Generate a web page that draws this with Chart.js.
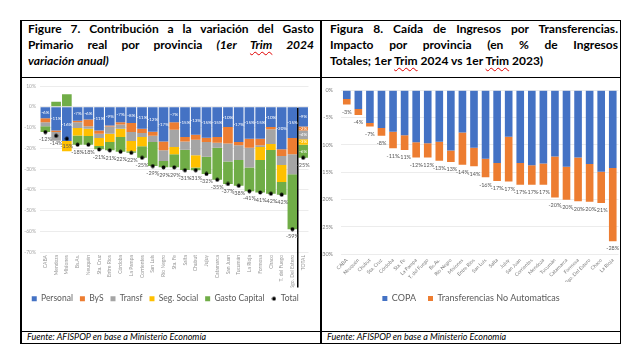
<!DOCTYPE html>
<html lang="es">
<head>
<meta charset="utf-8">
<script src="https://cdn.jsdelivr.net/npm/chart.js@4.4.1/dist/chart.umd.min.js"></script>
<title>Figuras 7 y 8</title>
<style>
  html, body { margin: 0; padding: 0; background: #fff; }
  body { width: 640px; height: 362px; position: relative; overflow: hidden; font-family: Lato, "Open Sans", sans-serif; color: #000; }
  .ln { position: absolute; background: #000; }
  .titulo { position: absolute; top: 21px; font-weight: bold; font-size: 12px; line-height: 16px; }
  .titulo div { text-align: justify; text-align-last: justify; }
  .titulo div.ult { text-align-last: left; }
  .sq { text-decoration: underline wavy #e00000; text-decoration-thickness: 1px; text-underline-offset: 2px; }
  .fuente { position: absolute; top: 331px; font-style: italic; font-size: 9px; line-height: 12px; }
  canvas { position: absolute; }
</style>
</head>
<body>
  <!-- titulos -->
  <div class="titulo" style="left:28px; width:286px;">
    <div>Figure 7. Contribución a la variación del Gasto</div>
    <div>Primario real por provincia <i>(1er <span class="sq">Trim</span> 2024</i></div>
    <div class="ult"><i>variación anual)</i></div>
  </div>
  <div class="titulo" style="left:330px; width:288px;">
    <div>Figura 8. Caída de Ingresos por Transferencias.</div>
    <div>Impacto por provincia (en % de Ingresos</div>
    <div class="ult">Totales; 1er <span class="sq">Trim</span> 2024 vs 1er <span class="sq">Trim</span> 2023)</div>
  </div>

  <!-- graficos -->
  <canvas id="fig7" width="296" height="234" style="left:22px; top:79px;"></canvas>
  <canvas id="fig8" width="298" height="234" style="left:322px; top:79px;"></canvas>

  <div class="fuente" style="left:27px;">Fuente: AFISPOP en base a Ministerio Economía</div>
  <div class="fuente" style="left:327px;">Fuente: AFISPOP en base a Ministerio Economía</div>

  <!-- bordes de la tabla -->
  <div class="ln" style="left:20px; top:20px; width:601px; height:1px;"></div>
  <div class="ln" style="left:20px; top:77px; width:601px; height:1px;"></div>
  <div class="ln" style="left:20px; top:331px; width:601px; height:1px;"></div>
  <div class="ln" style="left:20px; top:343px; width:601px; height:1px;"></div>
  <div class="ln" style="left:20px; top:20px; width:2px; height:324px;"></div>
  <div class="ln" style="left:320px; top:20px; width:2px; height:324px;"></div>
  <div class="ln" style="left:620px; top:20px; width:1px; height:324px;"></div>

<script>
// Figura 7: contribucion a la variacion del gasto primario (puntos porcentuales)
const provincias = ['CABA', 'Mendoza', 'Misiones', 'Bs.As.', 'Neuquén', 'Sta. Cruz', 'Entre Ríos', 'Córdoba',
  'La Pampa', 'Corrientes', 'San Luis', 'Río Negro', 'Sta. Fe', 'Salta', 'Chubut', 'Jujuy', 'Catamarca',
  'San Juan', 'Tucumán', 'La Rioja', 'Formosa', 'Chaco', 'T. del Fuego', 'Sgo. Del Estero', 'TOTAL'];
const personal = [-5.6, -11.4, -16.5, -6.7, -6.2, -11.4, -9.0, -7.5, -7.8, -10.6, -12.0, -16.7, -7.5,
  -14.6, -13.5, -14.9, -14.6, -9.8, -17.0, -15.4, -15.4, -9.8, -20.5, -15.1, -9.5];
const bys = [-1.9, -0.8, 0, -0.8, -3.2, -1.6, -0.5, -1.1, -4.4, -2.1, -2.0, -4.3, -3.6,
  -2.1, -2.4, -2.1, -2.7, -7.9, -1.6, -4.4, -3.2, -1.1, -3.2, -7.8, -1.9];
const transf = [-1.9, -4.2, 0, -2.7, -1.2, -2.1, -3.5, -2.0, -4.3, -1.9, -3.0, -5.2, -8.3,
  -4.0, -7.5, -7.1, -2.5, -8.7, -7.1, -9.5, -0.8, -7.1, -4.4, -9.6, -4.3];
const segSocial = [0, 0, -4.9, -3.6, -3.5, -3.8, -4.0, -4.0, -4.9, -4.4, 0, 0, -3.5,
  0, -5.9, 0, 0, 0, 0, 0, -6.3, -2.9, -8.2, 0, -2.6];
const gastoCapital = [-2.8, 2.4, 6.0, -4.5, -4.2, -1.6, -4.0, -7.1, -0.8, -5.6, -11.6, -3.0, -6.3,
  -9.8, -1.3, -8.3, -15.4, -10.8, -12.4, -11.4, -15.6, -21.0, -6.1, -26.5, -6.3];
const total = [-12.2, -14.0, -15.4, -18.3, -18.3, -20.6, -21.0, -21.7, -22.2, -24.6, -28.6, -29.2, -29.2,
  -30.6, -30.6, -32.4, -35.2, -37.2, -38.1, -40.7, -41.3, -41.9, -42.4, -59.0, -24.6];
const ticksFig7 = [10, 0, -10, -20, -30, -40, -50, -60, -70];

// Figura 8: caida de ingresos por transferencias (% de ingresos totales)
const provinciasTransf = ['CABA', 'Neuquén', 'Chubut', 'Sta. Cruz', 'Córdoba', 'Sta. Fe', 'La Pampa',
  'T. del Fuego', 'Bs.As.', 'Río Negro', 'Misiones', 'Entre Ríos', 'San Luis', 'Salta', 'Jujuy',
  'San Juan', 'Corrientes', 'Mendoza', 'Tucumán', 'Catamarca', 'Formosa', 'Sgo. Del Estero', 'Chaco', 'La Rioja'];
const copa = [-1.6, -3.4, -6.0, -6.9, -7.6, -8.2, -9.5, -9.7, -9.4, -11.0, -7.7, -10.5,
  -12.5, -13.3, -8.5, -13.3, -13.7, -13.4, -12.1, -14.0, -12.3, -13.5, -14.9, -14.2];
const noAutomaticas = [-1.0, -1.1, -0.6, -1.4, -3.0, -2.7, -2.8, -2.6, -3.5, -2.1, -5.9, -3.4,
  -3.4, -3.3, -8.2, -4.0, -3.6, -3.9, -7.5, -6.0, -8.0, -6.9, -5.7, -13.4];
const ticksFig8 = [0, -5, -10, -15, -20, -25, -30];

Chart.defaults.font.family = 'Lato';
Chart.defaults.animation = false;

// punto negro chico para la serie Total
const punto = document.createElement('canvas');
punto.width = 5; punto.height = 5;
const pc = punto.getContext('2d');
pc.fillStyle = '#000';
pc.beginPath(); pc.arc(2.5, 2.5, 1.9, 0, Math.PI * 2); pc.fill();

const pct = v => Math.round(v) + '%';

const etiquetasFig7 = {
  id: 'etiquetasFig7',
  afterDatasetsDraw(chart) {
    const ctx = chart.ctx, x = chart.scales.x, y = chart.scales.y;
    const n = provincias.length;
    ctx.save();
    // linea que separa el TOTAL
    const xs = (x.getPixelForValue(n - 2) + x.getPixelForValue(n - 1)) / 2;
    ctx.strokeStyle = '#000';
    ctx.lineWidth = 1.5;
    ctx.beginPath();
    ctx.moveTo(xs, y.getPixelForValue(-0.5));
    ctx.lineTo(xs, x.bottom);
    ctx.stroke();
    // valores dentro de las barras (personal, y todo el TOTAL)
    ctx.font = '4.5px Lato';
    ctx.fillStyle = '#fff';
    ctx.textAlign = 'center';
    ctx.textBaseline = 'middle';
    for (let d = 0; d < 5; d++) {
      const vals = chart.data.datasets[d].data;
      chart.getDatasetMeta(d).data.forEach((bar, i) => {
        if (d > 0 && i < n - 1) return;
        if (Math.abs(vals[i]) < 1) return;
        ctx.fillText(pct(vals[i]), bar.x, (bar.y + bar.base) / 2);
      });
    }
    // etiquetas del total
    ctx.font = '5.5px Lato';
    ctx.fillStyle = '#595959';
    chart.getDatasetMeta(5).data.forEach((pt, i) => {
      ctx.fillText(pct(total[i]), pt.x, pt.y + 7.5);
    });
    ctx.restore();
  }
};

const etiquetasFig8 = {
  id: 'etiquetasFig8',
  afterDatasetsDraw(chart) {
    const ctx = chart.ctx, y = chart.scales.y;
    ctx.save();
    ctx.font = '5.5px Lato';
    ctx.fillStyle = '#595959';
    ctx.textAlign = 'center';
    ctx.textBaseline = 'middle';
    chart.getDatasetMeta(1).data.forEach((bar, i) => {
      const t = Math.round((copa[i] + noAutomaticas[i]) * 10) / 10;
      ctx.fillText(pct(t), bar.x, y.getPixelForValue(t) + 7.5);
    });
    ctx.restore();
  }
};

const barra = (label, data, color) => ({
  label: label, data: data, backgroundColor: color, pointStyle: 'rect',
  categoryPercentage: 0.9, barPercentage: 1
});

new Chart(document.getElementById('fig7'), {
  type: 'bar',
  data: {
    labels: provincias,
    datasets: [
      barra('Personal', personal, '#4472C4'),
      barra('ByS', bys, '#ED7D31'),
      barra('Transf', transf, '#A5A5A5'),
      barra('Seg. Social', segSocial, '#FFC000'),
      barra('Gasto Capital', gastoCapital, '#70AD47'),
      { type: 'line', label: 'Total', data: total, showLine: false, order: -1,
        pointStyle: punto, borderColor: '#000', backgroundColor: '#000' }
    ]
  },
  options: {
    responsive: false,
    layout: { padding: { top: 6, right: 9.5, left: 0, bottom: 0 } },
    scales: {
      x: {
        stacked: true,
        grid: { display: false, drawTicks: false },
        border: { display: false },
        ticks: { autoSkip: false, minRotation: 90, maxRotation: 90, padding: 3, color: '#999999', font: { size: 5 } },
        afterFit(s) { s.height = 35.5; }
      },
      y: {
        stacked: true,
        min: -70, max: 10,
        afterBuildTicks(s) { s.ticks = ticksFig7.map(v => ({ value: v })); },
        grid: { color: '#ececec', drawTicks: false },
        border: { display: false },
        ticks: { padding: 4, color: '#a6a6a6', font: { size: 5 }, callback: v => v + '%' },
        afterFit(s) { s.width = 18; }
      }
    },
    plugins: {
      tooltip: { enabled: false },
      legend: {
        position: 'bottom',
        labels: {
          usePointStyle: true, boxWidth: 5, boxHeight: 5, padding: 7,
          color: '#595959', font: { size: 8.5 },
          sort: (a, b) => a.datasetIndex - b.datasetIndex
        }
      }
    }
  },
  plugins: [etiquetasFig7]
});

new Chart(document.getElementById('fig8'), {
  type: 'bar',
  data: {
    labels: provinciasTransf,
    datasets: [
      { label: 'COPA', data: copa, backgroundColor: '#4472C4', pointStyle: 'rect',
        categoryPercentage: 0.66, barPercentage: 1 },
      { label: 'Transferencias No Automaticas', data: noAutomaticas, backgroundColor: '#ED7D31', pointStyle: 'rect',
        categoryPercentage: 0.66, barPercentage: 1 }
    ]
  },
  options: {
    responsive: false,
    layout: { padding: { top: 3, right: 0, left: 0, bottom: 0 } },
    scales: {
      x: {
        stacked: true,
        grid: { display: false, drawTicks: false },
        border: { display: false },
        ticks: { autoSkip: false, minRotation: 45, maxRotation: 45, padding: 3, color: '#7f7f7f', font: { size: 5 } },
        afterFit(s) { s.height = 27.7; }
      },
      y: {
        stacked: true,
        min: -30, max: 0,
        afterBuildTicks(s) { s.ticks = ticksFig8.map(v => ({ value: v })); },
        grid: { color: '#ececec', drawTicks: false },
        border: { display: false },
        ticks: { padding: 8, color: '#7f7f7f', font: { size: 5.5 }, callback: v => v + '%' },
        afterFit(s) { s.width = 19; }
      }
    },
    plugins: {
      tooltip: { enabled: false },
      legend: {
        position: 'bottom',
        labels: { usePointStyle: true, boxWidth: 5, boxHeight: 5, padding: 12, color: '#595959', font: { size: 9 } }
      }
    }
  },
  plugins: [etiquetasFig8]
});
</script>
</body>
</html>
